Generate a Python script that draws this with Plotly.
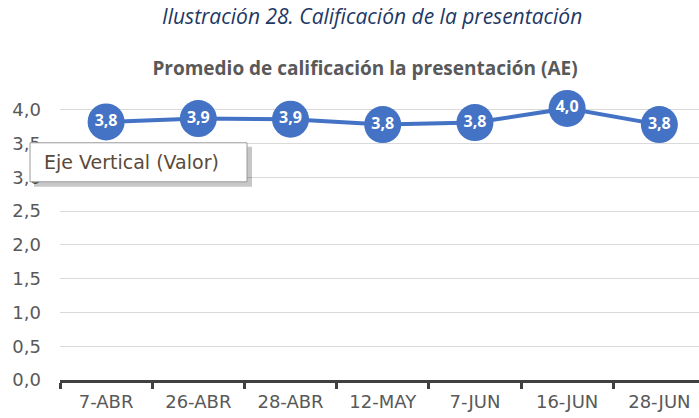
import plotly.graph_objects as go

fechas = ["7-ABR", "26-ABR", "28-ABR", "12-MAY", "7-JUN", "16-JUN", "28-JUN"]
promedio = [3.82, 3.87, 3.86, 3.78, 3.81, 4.02, 3.78]
y_ticks = [0, 0.5, 1.0, 1.5, 2.0, 2.5, 3.0, 3.5, 4.0]

azul = "#4472C4"
gris = "#595959"
fuente = "'Open Sans', sans-serif"
fuente_ejes = "'DejaVu Sans', sans-serif"

# plot area: x 60..699, y 380 (0,0) .. 110 (4,0)
y_top = 4.1
alto = 270 * y_top / 4.0

fig = go.Figure()
fig.add_trace(go.Scatter(
    x=fechas, y=promedio, mode="lines+markers+text",
    line=dict(color=azul, width=4),
    marker=dict(color=azul, size=37),
    text=[f"{v:.1f}".replace(".", ",") for v in promedio],
    textposition="middle center",
    textfont=dict(color="white", size=16, family=fuente, weight="bold"),
    cliponaxis=False, hoverinfo="skip",
))

def py(px_y):
    # page pixel y -> paper y
    return (380 - px_y) / alto

def pxx(px_x):
    return (px_x - 60) / 639

# caption above the chart
fig.add_annotation(text="<i>Ilustración 28. Calificación de la presentación</i>",
                   xref="paper", yref="paper", x=pxx(372), y=py(16),
                   yanchor="middle", xanchor="center", showarrow=False,
                   font=dict(size=21, color="#1F3864", family=fuente))

# tooltip-like box with shadow
fig.add_shape(type="rect", xref="paper", yref="paper",
              x0=pxx(34), x1=pxx(252), y0=py(187), y1=py(147),
              fillcolor="rgba(0,0,0,0.22)", line=dict(width=0), layer="above")
fig.add_shape(type="rect", xref="paper", yref="paper",
              x0=pxx(30), x1=pxx(247), y0=py(182), y1=py(143),
              fillcolor="white", line=dict(width=1, color="#9a9a9a"),
              layer="above")
fig.add_annotation(text="Eje Vertical (Valor)", xref="paper", yref="paper",
                   x=pxx(42), y=py(162.5), xanchor="left", yanchor="middle",
                   showarrow=False,
                   font=dict(size=19, color="#5a4a3a", family=fuente_ejes))

fig.update_layout(
    width=699, height=418,
    margin=dict(l=60, r=0, t=int(380 - alto), b=38),
    paper_bgcolor="white", plot_bgcolor="white",
    separators=",.",
    showlegend=False,
    title=dict(text="<b>Promedio de calificación la presentación (AE)</b>",
               x=365 / 699, xanchor="center", y=1 - 68 / 418, yanchor="middle",
               font=dict(size=19, color=gris, family=fuente)),
    xaxis=dict(range=[-0.5, 6.43], showgrid=False, showline=True,
               linecolor="#404040", linewidth=3, ticks="outside",
               tickson="boundaries", ticklen=6, tickwidth=3,
               tickcolor="#404040", ticklabelstandoff=3,
               tickfont=dict(size=18, color=gris, family=fuente_ejes)),
    yaxis=dict(range=[0, y_top], tickvals=y_ticks, tickformat=".1f",
               showgrid=True, gridcolor="#D9D9D9", gridwidth=1,
               zeroline=False, showline=False, ticks="", ticklen=0,
               ticklabelstandoff=18,
               tickfont=dict(size=18, color=gris, family=fuente_ejes)),
)

fig.write_html("out.html", config={"displayModeBar": False},
               post_script="document.body.style.margin='0';")
